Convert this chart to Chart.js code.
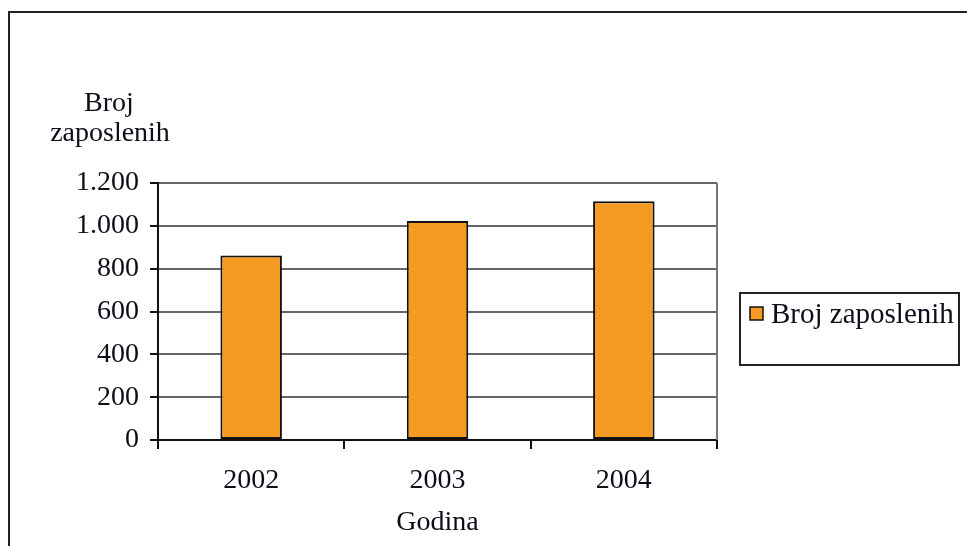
<!DOCTYPE html>
<html>
<head>
<meta charset="utf-8">
<script src="https://cdn.jsdelivr.net/npm/chart.js@4/dist/chart.umd.min.js"></script>
<style>
  html, body { margin: 0; padding: 0; background: #fff; }
  canvas { display: block; }
</style>
</head>
<body>
<canvas id="chart" width="967" height="546"></canvas>
<script>
const years = ["2002", "2003", "2004"];
const employees = [862, 1022, 1115];
const seriesLabel = "Broj zaposlenih";
const yTitleLines = ["Broj", "zaposlenih"];
const xTitle = "Godina";
const yTicks = [0, 200, 400, 600, 800, 1000, 1200];

const serif = "'Liberation Serif', 'Times New Roman', serif";
const textColor = "#0d0d1a";

// frame, axis titles, right plot border and legend box
const extras = {
  id: "extras",
  afterDraw(chart) {
    const ctx = chart.ctx;
    const area = chart.chartArea;
    ctx.save();

    ctx.strokeStyle = "#222";
    ctx.lineWidth = 2;
    ctx.strokeRect(9, 12, 1000, 600);

    ctx.strokeStyle = "#777";
    ctx.lineWidth = 2;
    ctx.beginPath();
    ctx.moveTo(area.right, area.top);
    ctx.lineTo(area.right, area.bottom);
    ctx.stroke();

    ctx.fillStyle = textColor;
    ctx.font = "28px " + serif;
    ctx.textAlign = "center";
    ctx.textBaseline = "middle";
    ctx.fillText(yTitleLines[0], 109, 104);
    ctx.fillText(yTitleLines[1], 110, 134);
    ctx.fillText(xTitle, (area.left + area.right) / 2, 523);

    // legend
    const ds = chart.data.datasets[0];
    ctx.strokeStyle = "#222";
    ctx.lineWidth = 2;
    ctx.strokeRect(740, 293, 219, 72);
    ctx.fillStyle = ds.backgroundColor;
    ctx.fillRect(750, 307, 13, 13);
    ctx.strokeStyle = "#111";
    ctx.lineWidth = 1.5;
    ctx.strokeRect(750, 307, 13, 13);
    ctx.fillStyle = textColor;
    ctx.textAlign = "left";
    ctx.font = "29px " + serif;
    ctx.fillText(ds.label, 771, 315);

    ctx.restore();
  }
};

new Chart(document.getElementById("chart"), {
  type: "bar",
  data: {
    labels: years,
    datasets: [{
      label: seriesLabel,
      data: employees,
      backgroundColor: "#F59A23",
      borderColor: "#111",
      borderWidth: 2,
      borderSkipped: false,
      categoryPercentage: 1,
      barPercentage: 0.33
    }]
  },
  options: {
    responsive: false,
    devicePixelRatio: 1,
    animation: false,
    layout: { padding: { left: 0, top: 183, right: 250, bottom: 0 } },
    plugins: {
      legend: { display: false },
      tooltip: { enabled: false }
    },
    scales: {
      x: {
        offset: true,
        grid: {
          offset: true,
          drawOnChartArea: false,
          drawTicks: true,
          tickLength: 9,
          color: "#111",
          lineWidth: 2
        },
        border: { display: true, color: "#111", width: 2 },
        ticks: {
          color: textColor,
          font: { family: serif, size: 28 },
          padding: 15
        },
        afterFit: (scale) => { scale.height = 106; }
      },
      y: {
        min: 0,
        max: 1200,
        afterBuildTicks: (scale) => { scale.ticks = yTicks.map(v => ({ value: v })); },
        grid: {
          color: "#666",
          lineWidth: 2,
          drawTicks: true,
          tickLength: 8,
          tickColor: "#111"
        },
        border: { display: true, color: "#111", width: 2 },
        ticks: {
          color: textColor,
          font: { family: serif, size: 28 },
          padding: 11,
          callback: (v) => v.toLocaleString("de-DE")
        },
        afterFit: (scale) => { scale.width = 158; }
      }
    }
  },
  plugins: [extras]
});
</script>
</body>
</html>
